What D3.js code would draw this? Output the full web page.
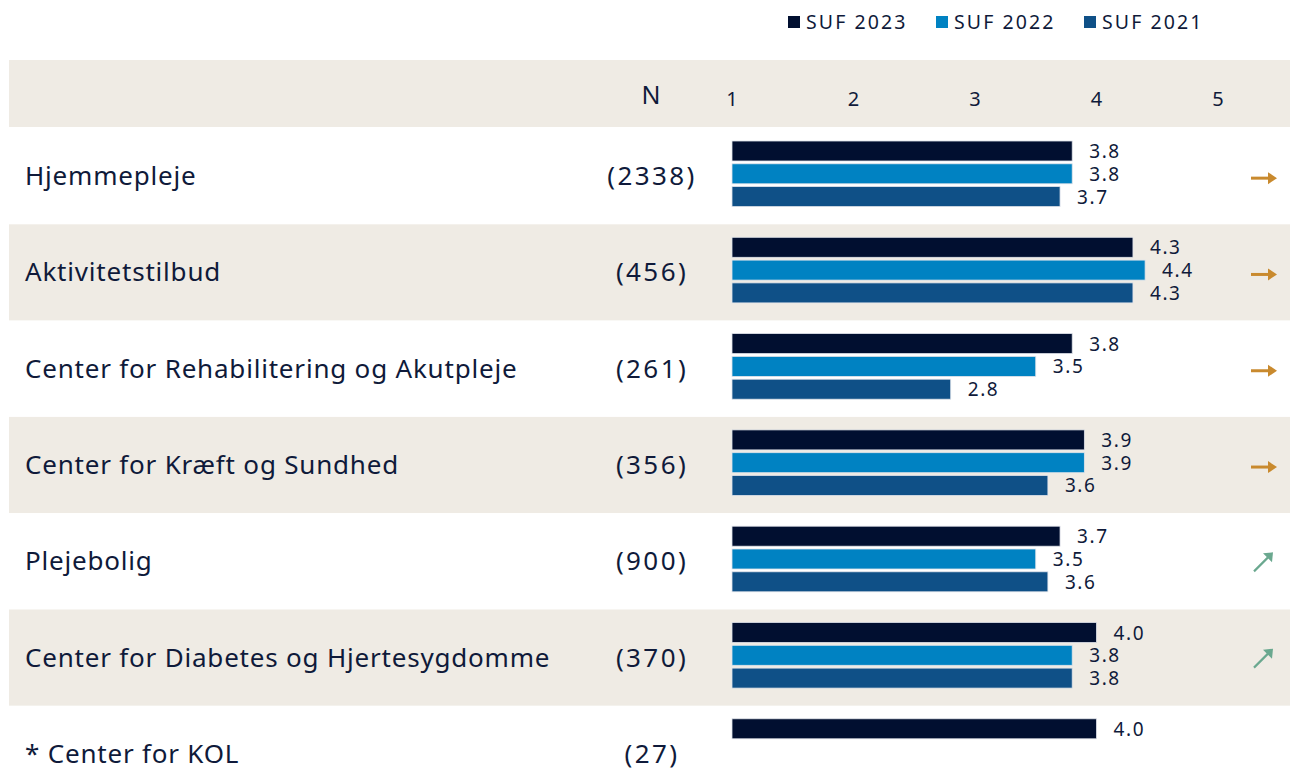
<!DOCTYPE html>
<html>
<head>
<meta charset="utf-8">
<script src="https://cdn.jsdelivr.net/npm/d3@7"></script>
<style>
  body { margin: 0; background: #fff; }
  svg { display: block; font-family: "Noto Sans", sans-serif; }
</style>
</head>
<body>
<svg id="chart" width="1290" height="769"></svg>
<script>
// Data
const categories = [
    "Hjemmepleje",
    "Aktivitetstilbud",
    "Center for Rehabilitering og Akutpleje",
    "Center for Kræft og Sundhed",
    "Plejebolig",
    "Center for Diabetes og Hjertesygdomme",
    "* Center for KOL"
];
const nValues = ["(2338)", "(456)", "(261)", "(356)", "(900)", "(370)", "(27)"];
const suf2023 = [3.8, 4.3, 3.8, 3.9, 3.7, 4.0, 4.0];
const suf2022 = [3.8, 4.4, 3.5, 3.9, 3.5, 3.8, null];
const suf2021 = [3.7, 4.3, 2.8, 3.6, 3.6, 3.8, null];
const trends = ["flat", "flat", "flat", "flat", "up", "up", null];
const seriesNames = ["SUF 2023", "SUF 2022", "SUF 2021"];
const seriesColors = ["#010f30", "#0082c2", "#0f5087"];
const ticks = [1, 2, 3, 4, 5];

const svg = d3.select('#chart');
const textColor = '#0f1a3a';
const beige = '#efebe4';

// Layout
const headerTop = 60, headerH = 67;
const rowTop = 128, rowH = 96.3;
const x = d3.scaleLinear().domain([1, 5]).range([732, 1218]);

// Legend
const legend = svg.append('g');
seriesNames.forEach((name, i) => {
    const lx = 788 + i * 148;
    legend.append('rect')
        .attr('x', lx).attr('y', 16).attr('width', 12).attr('height', 12)
        .attr('fill', seriesColors[i]);
    legend.append('text')
        .attr('x', lx + 18).attr('y', 29)
        .attr('font-size', 19.5).attr('fill', textColor)
        .attr('letter-spacing', 2.1)
        .text(name);
});

// Header band
svg.append('rect')
    .attr('x', 9).attr('y', headerTop).attr('width', 1281).attr('height', headerH)
    .attr('fill', beige);
svg.append('text')
    .attr('x', 651).attr('y', 104).attr('text-anchor', 'middle')
    .attr('font-size', 25).attr('fill', textColor).text('N');
svg.selectAll('.tick')
    .data(ticks)
    .enter()
    .append('text')
    .attr('class', 'tick')
    .attr('x', d => x(d)).attr('y', 106).attr('text-anchor', 'middle')
    .attr('font-size', 20).attr('fill', textColor)
    .text(d => d);

// Rows
const rows = svg.selectAll('.row')
    .data(categories)
    .enter()
    .append('g')
    .attr('class', 'row')
    .attr('transform', (d, i) => `translate(0,${rowTop + i * rowH})`);

rows.append('rect')
    .attr('x', 9).attr('y', 0).attr('width', 1281).attr('height', rowH)
    .attr('fill', (d, i) => i % 2 === 1 ? beige : '#fff');

rows.append('text')
    .attr('x', 25).attr('y', rowH / 2 + 9)
    .attr('font-size', 26).attr('fill', textColor)
    .attr('letter-spacing', 0.8)
    .text(d => d);

rows.append('text')
    .attr('x', 652).attr('y', rowH / 2 + 9).attr('text-anchor', 'middle')
    .attr('font-size', 26).attr('fill', textColor)
    .attr('letter-spacing', 2.4)
    .text((d, i) => nValues[i]);

const barH = 20, barGap = 2.8, barTop = 13;
const series = [suf2023, suf2022, suf2021];

rows.each(function(d, i) {
    const g = d3.select(this);
    series.forEach((s, k) => {
        const v = s[i];
        if (v == null) return;
        const y = barTop + k * (barH + barGap);
        g.append('rect')
            .attr('x', x(1)).attr('y', y)
            .attr('width', x(v) - x(1)).attr('height', barH)
            .attr('fill', seriesColors[k])
            .attr('stroke', '#dfe3ea').attr('stroke-width', 0.8);
        g.append('text')
            .attr('x', x(v) + 17).attr('y', y + barH / 2 + 7)
            .attr('font-size', 19).attr('fill', textColor)
            .attr('letter-spacing', 1.6)
            .text(v.toFixed(1));
    });

    // Trend arrow
    const t = trends[i];
    if (t === 'flat') {
        g.append('line')
            .attr('x1', 1251).attr('x2', 1270)
            .attr('y1', rowH / 2 + 2).attr('y2', rowH / 2 + 2)
            .attr('stroke', '#c98a2e').attr('stroke-width', 3);
        g.append('path')
            .attr('d', `M1268,${rowH / 2 - 4} L1277,${rowH / 2 + 2} L1268,${rowH / 2 + 8} Z`)
            .attr('fill', '#c98a2e');
    } else if (t === 'up') {
        const cx = 1262, cy = rowH / 2;
        g.append('line')
            .attr('x1', cx - 8).attr('y1', cy + 10)
            .attr('x2', cx + 6).attr('y2', cy - 4)
            .attr('stroke', '#6aa88f').attr('stroke-width', 2.2);
        g.append('path')
            .attr('d', `M${cx + 11},${cy - 9} L${cx + 10},${cy + 1} L${cx + 1},${cy - 8} Z`)
            .attr('fill', '#6aa88f');
    }
});
</script>
</body>
</html>
